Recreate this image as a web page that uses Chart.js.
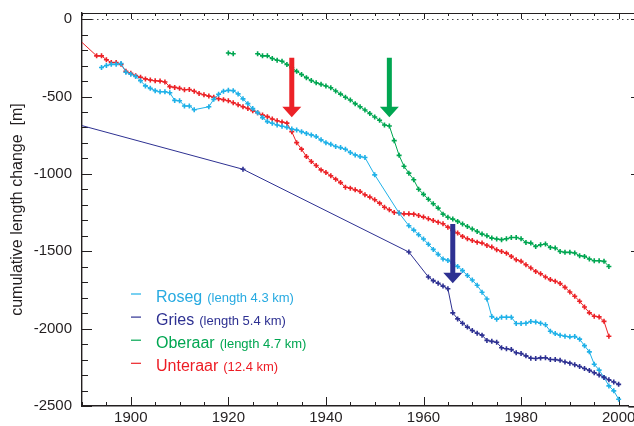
<!DOCTYPE html>
<html><head><meta charset="utf-8">
<script src="https://cdn.jsdelivr.net/npm/chart.js@4.4.1/dist/chart.umd.min.js"></script>
<style>html,body{margin:0;padding:0;background:#fff;}#wrap{position:relative;width:634px;height:426px;}</style>
</head><body><div id="wrap"><canvas id="c" width="634" height="426"></canvas></div>
<script>
// ---- data ----
const rosegYears = [1894,1895,1896,1897,1898,1899,1900,1901,1902,1903,1904,1905,1906,1907,1908,1909,1910,1911,1912,1913,
  1916,1917,1918,1919,1920,1921,1922,1923,1924,1925,1926,1927,1928,1929,1930,1931,1932,1933,1934,1935,1936,1937,1938,1939,
  1940,1941,1942,1943,1944,1945,1946,1947,1948,1950,1955,1957,1958,1959,1960,1961,1962,1963,1964,1965,1966,1967,1968,1969,
  1970,1971,1972,1973,1974,1975,1976,1977,1978,1979,1980,1981,1982,1983,1984,1985,1986,1987,1988,1989,1990,1991,1992,1993,
  1994,1995,1996,1997,1998,1999,2000];
const rosegValues = [-312,-299,-292,-292,-286,-343,-356,-370,-398,-431,-447,-462,-469,-469,-475,-525,-527,-561,-561,-585,
  -566,-518,-485,-466,-460,-462,-483,-515,-546,-578,-604,-636,-662,-673,-684,-692,-699,-710,-716,-727,-738,-748,-759,-780,
  -798,-809,-823,-830,-841,-862,-877,-888,-894,-1006,-1253,-1335,-1363,-1393,-1421,-1455,-1488,-1520,-1550,-1559,-1576,-1598,-1625,-1657,
  -1686,-1720,-1765,-1808,-1922,-1939,-1926,-1926,-1926,-1967,-1967,-1965,-1954,-1957,-1965,-1975,-2017,-2032,-2043,-2049,-2053,-2051,-2068,-2110,
  -2150,-2230,-2268,-2315,-2370,-2402,-2456];

const griesYears = [1890,1923,1957,1961,1962,1963,1964,1965,1966,1967,1968,1969,1970,1971,1972,1973,1974,1975,1976,1977,1978,1979,
  1980,1981,1982,1983,1984,1985,1986,1987,1988,1989,1990,1991,1992,1993,1994,1995,1996,1997,1998,1999,2000];
const griesValues = [-688,-970,-1505,-1666,-1690,-1707,-1725,-1742,-1898,-1937,-1965,-1990,-2012,-2030,-2042,-2076,-2082,-2088,-2124,-2130,-2135,-2156,
  -2161,-2176,-2191,-2193,-2189,-2188,-2199,-2200,-2205,-2216,-2223,-2233,-2245,-2258,-2270,-2285,-2300,-2315,-2330,-2345,-2360];

const oberaarYears = [1920,1921,1923,1926,1927,1928,1929,1930,1931,1932,1933,1934,1935,1936,1937,1938,1939,1940,1941,1942,1943,1944,
  1945,1946,1947,1948,1949,1950,1951,1952,1953,1954,1955,1956,1957,1958,1959,1960,1961,1962,1963,1964,1965,1966,1967,1968,1969,
  1970,1971,1972,1973,1974,1975,1976,1977,1978,1979,1980,1981,1982,1983,1984,1985,1986,1987,1988,1989,1990,1991,1992,1993,1994,
  1995,1996,1997,1998];
const oberaarValues = [-219,-223,null,-223,-237,-237,-254,-265,-272,-293,-314,-337,-357,-378,-396,-411,-421,-432,-443,-464,-484,-505,
  -522,-546,-566,-587,-610,-632,-653,-684,-690,-785,-880,-950,-995,-1038,-1099,-1132,-1164,-1193,-1221,-1260,-1280,-1292,-1307,-1324,-1340,
  -1356,-1372,-1389,-1400,-1415,-1421,-1425,-1419,-1411,-1411,-1419,-1443,-1447,-1469,-1458,-1453,-1475,-1479,-1501,-1507,-1507,-1511,-1529,-1533,-1550,
  -1561,-1561,-1565,-1598];

const unteraarYears = [1890,1893,1894,1895,1896,1897,1898,1899,1900,1901,1902,1903,1904,1905,1906,1907,1908,1909,1910,1911,1912,1913,
  1914,1915,1916,1917,1918,1919,1920,1921,1922,1923,1924,1925,1926,1927,1928,1929,1930,1931,1932,1933,1934,1935,1936,1937,1938,1939,
  1940,1941,1942,1943,1944,1945,1946,1947,1948,1949,1950,1951,1952,1953,1954,1955,1956,1957,1958,1959,1960,1961,1962,1963,1964,
  1965,1966,1967,1968,1969,1970,1971,1972,1973,1974,1975,1976,1977,1978,1979,1980,1981,1982,1983,1984,1985,1986,1987,1988,1989,
  1990,1991,1992,1993,1994,1995,1996,1997,1998];
const unteraarValues = [-150,-237,-237,-262,-280,-280,-292,-337,-350,-365,-375,-386,-393,-398,-400,-406,-436,-441,-447,-456,-454,-466,
  -480,-488,-497,-505,-514,-520,-527,-540,-553,-566,-577,-591,-604,-619,-630,-645,-656,-664,-672,-727,-798,-840,-888,-920,-946,-974,
  -991,-1012,-1034,-1056,-1086,-1092,-1103,-1114,-1135,-1150,-1167,-1189,-1215,-1232,-1249,-1253,-1258,-1258,-1260,-1269,-1279,-1290,-1301,-1312,-1322,
  -1344,-1365,-1382,-1404,-1419,-1430,-1441,-1447,-1462,-1473,-1490,-1501,-1512,-1533,-1555,-1565,-1587,-1608,-1630,-1645,-1666,-1683,-1694,-1708,-1733,
  -1763,-1791,-1823,-1860,-1898,-1920,-1924,-1953,-2049];

const xTicks = [1900,1920,1940,1960,1980,2000];
const yTicks = [-2500,-2000,-1500,-1000,-500,0];
const seriesNames = ['Roseg','Gries','Oberaar','Unteraar'];
const seriesNotes = ['(length 4.3 km)','(length 5.4 km)','(length 4.7 km)','(12.4 km)'];
const arrowYears = [1933,1953,1966];
const arrowFrom = [-250,-250,-1324];
const arrowTo = [-633,-633,-1707];

// ---- styles ----
const colors = ['#1fb1e8','#2e3192','#00a651','#ec2227'];
const textColors = ['#27aae1','#2e3192','#00a651','#ed1c24'];
const arrowColors = ['#ec2227','#00a651','#2e3192'];
const ink = '#231f20';
const FONT = '"Liberation Sans", Arial, Helvetica, sans-serif';
const minorX = 5, minorY = 100;

function pts(years, vals){ return years.map((yr,i)=>({x:yr, y:vals[i]})); }
const radiusFn = ctx => (ctx.raw && ctx.raw.x <= 1890) ? 0 : 2.5;

function ds(label, years, vals, color){
  return {label, data: pts(years, vals), borderColor: color, backgroundColor: color,
    borderWidth: 1, pointStyle: 'cross', pointRadius: radiusFn, pointBorderWidth: 1.6,
    pointBorderColor: color, tension: 0, spanGaps: false};
}

const framePlugin = {
  id: 'frame',
  beforeDatasetsDraw(chart){
    const {ctx, chartArea: a, scales: {x, y}} = chart;
    const R = chart.width;
    ctx.save();
    ctx.strokeStyle = '#444'; ctx.lineWidth = 1; ctx.setLineDash([1.5, 3.5]);
    const y0 = Math.round(y.getPixelForValue(0)) + 0.5;
    ctx.beginPath(); ctx.moveTo(a.left, y0); ctx.lineTo(R, y0); ctx.stroke();
    ctx.setLineDash([]);
    ctx.strokeStyle = ink; ctx.lineWidth = 1.2;
    ctx.beginPath(); ctx.moveTo(a.left, a.top + 0.5); ctx.lineTo(R, a.top + 0.5); ctx.stroke();
    ctx.lineWidth = 1.6;
    ctx.beginPath(); ctx.moveTo(a.right, a.bottom + 0.8); ctx.lineTo(R, a.bottom + 0.8); ctx.stroke();
    ctx.lineWidth = 1;
    for (let v = Math.ceil(x.min / minorX) * minorX; v <= x.max; v += minorX){
      const px = Math.round(x.getPixelForValue(v)) + 0.5;
      const major = xTicks.includes(v);
      ctx.beginPath();
      ctx.moveTo(px, a.bottom); ctx.lineTo(px, a.bottom - (major ? 9 : 4));
      ctx.moveTo(px, a.top); ctx.lineTo(px, a.top + (major ? 6 : 3));
      ctx.stroke();
    }
    for (let v = Math.ceil(y.min / minorY) * minorY; v <= y.max; v += minorY){
      const py = Math.round(y.getPixelForValue(v)) + 0.5;
      const major = yTicks.includes(v);
      ctx.beginPath();
      ctx.moveTo(a.left, py); ctx.lineTo(a.left + (major ? 10 : 6), py);
      if (major){ ctx.moveTo(R, py); ctx.lineTo(R - 3, py); }
      ctx.stroke();
    }
    ctx.restore();
  },
  afterDatasetsDraw(chart){
    const {ctx, scales: {x, y}} = chart;
    ctx.save();
    const headH = 10.5, headW = 19, shaftW = 5;
    arrowYears.forEach((yr, i) => {
      const px = x.getPixelForValue(yr);
      const pt = y.getPixelForValue(arrowFrom[i]);
      const pb = y.getPixelForValue(arrowTo[i]);
      ctx.fillStyle = arrowColors[i];
      ctx.beginPath();
      ctx.moveTo(px - shaftW/2, pt); ctx.lineTo(px + shaftW/2, pt);
      ctx.lineTo(px + shaftW/2, pb - headH); ctx.lineTo(px + headW/2, pb - headH);
      ctx.lineTo(px, pb); ctx.lineTo(px - headW/2, pb - headH);
      ctx.lineTo(px - shaftW/2, pb - headH); ctx.closePath(); ctx.fill();
    });
    ctx.textBaseline = 'alphabetic'; ctx.textAlign = 'left';
    seriesNames.forEach((name, i) => {
      const base = 301.5 + i * 23.1;
      ctx.strokeStyle = colors[i]; ctx.lineWidth = 1.2;
      ctx.beginPath(); ctx.moveTo(131, base - 7.5); ctx.lineTo(141, base - 7.5); ctx.stroke();
      ctx.fillStyle = textColors[i];
      ctx.font = '16px ' + FONT;
      ctx.fillText(name, 156, base);
      const w = ctx.measureText(name).width;
      ctx.font = '13px ' + FONT;
      ctx.fillText(seriesNotes[i], 156 + w + 5, base);
    });
    ctx.restore();
  }
};

new Chart(document.getElementById('c'), {
  type: 'line',
  data: { datasets: [
    ds('Gries', griesYears, griesValues, colors[1]),
    ds('Roseg', rosegYears, rosegValues, colors[0]),
    ds('Oberaar', oberaarYears, oberaarValues, colors[2]),
    ds('Unteraar', unteraarYears, unteraarValues, colors[3])
  ]},
  options: {
    responsive: false, animation: false, devicePixelRatio: 1,
    layout: { padding: { top: 13, right: 0, bottom: 0, left: 0 } },
    plugins: { legend: { display: false }, tooltip: { enabled: false } },
    scales: {
      x: {
        type: 'linear', min: 1890, max: 2002,
        grid: { display: false, drawTicks: false },
        border: { display: true, color: ink, width: 1.6 },
        ticks: { color: ink, font: { family: FONT, size: 15 }, padding: 3, maxRotation: 0, autoSkip: false,
          callback: v => String(v) },
        afterBuildTicks: s => { s.ticks = xTicks.map(v => ({ value: v })); },
        afterFit: s => { s.height = 20; s.paddingLeft = 0; s.paddingRight = 0; }
      },
      y: {
        type: 'linear', min: -2500, max: 40,
        grid: { display: false, drawTicks: false },
        border: { display: true, color: ink, width: 1.4 },
        ticks: { color: ink, font: { family: FONT, size: 15 }, padding: 10, autoSkip: false,
          callback: v => String(v) },
        title: { display: true, text: 'cumulative length change  [m]', color: ink,
          font: { family: FONT, size: 16 }, padding: { top: 8, bottom: 0 } },
        afterBuildTicks: s => { s.ticks = yTicks.map(v => ({ value: v })); },
        afterFit: s => { s.width = 82; s.paddingTop = 0; s.paddingBottom = 0; }
      }
    }
  },
  plugins: [framePlugin]
});
</script></body></html>
